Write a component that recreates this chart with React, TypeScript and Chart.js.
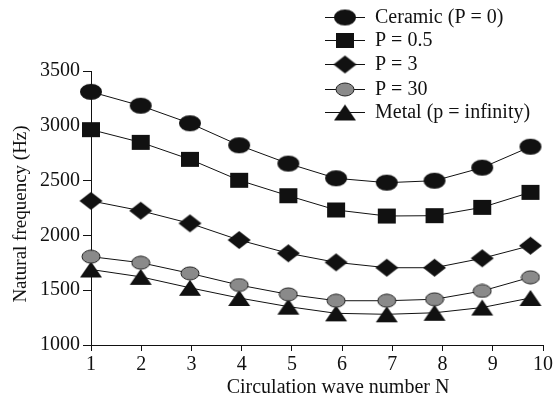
import React, { useEffect, useRef } from 'react';
import { Chart, registerables } from 'chart.js';

Chart.register(...registerables);

// ---- data ----
const waveNumbers = [1, 1.99, 2.97, 3.95, 4.93, 5.88, 6.89, 7.84, 8.79, 9.75];
const ceramic = [3310, 3183, 3023, 2822, 2655, 2521, 2481, 2499, 2618, 2809];
const p05 = [2965, 2849, 2694, 2503, 2362, 2232, 2177, 2180, 2256, 2393];
const p3 = [2315, 2225, 2110, 1958, 1837, 1754, 1705, 1705, 1791, 1906];
const p30 = [1806, 1751, 1654, 1547, 1462, 1404, 1404, 1417, 1493, 1618];
const metal = [1689, 1622, 1522, 1429, 1350, 1289, 1280, 1294, 1342, 1429];

const seriesLabels = ['Ceramic (P = 0)', 'P = 0.5', 'P = 3', 'P = 30', 'Metal (p = infinity)'];
const xAxisTitle = 'Circulation wave number N';
const yAxisTitle = 'Natural frequency (Hz)';
const yMin = 1000;
const yMax = 3500;
const yStep = 500;
const xMin = 1;
const xMax = 10;

const FONT_FAMILY = '"Liberation Serif", "Times New Roman", Times, serif';

type Kind = 'ellipse' | 'rect' | 'diamond' | 'triangle';

function makeMarker(kind: Kind, w: number, h: number, fill: string, stroke: string | null): HTMLCanvasElement {
  const c = document.createElement('canvas');
  c.width = w + 2;
  c.height = h + 2;
  const ctx = c.getContext('2d')!;
  const cx = c.width / 2;
  const cy = c.height / 2;
  ctx.beginPath();
  if (kind === 'ellipse') {
    ctx.ellipse(cx, cy, w / 2, h / 2, 0, 0, Math.PI * 2);
  } else if (kind === 'rect') {
    ctx.rect(cx - w / 2, cy - h / 2, w, h);
  } else if (kind === 'diamond') {
    ctx.moveTo(cx, cy - h / 2);
    ctx.lineTo(cx + w / 2, cy);
    ctx.lineTo(cx, cy + h / 2);
    ctx.lineTo(cx - w / 2, cy);
    ctx.closePath();
  } else {
    ctx.moveTo(cx, cy - h / 2);
    ctx.lineTo(cx + w / 2, cy + h / 2);
    ctx.lineTo(cx - w / 2, cy + h / 2);
    ctx.closePath();
  }
  ctx.fillStyle = fill;
  ctx.fill();
  if (stroke) {
    ctx.strokeStyle = stroke;
    ctx.lineWidth = 1;
    ctx.stroke();
  }
  return c;
}

export default function App() {
  const canvasRef = useRef<HTMLCanvasElement | null>(null);

  useEffect(() => {
    const canvas = canvasRef.current;
    if (!canvas) return;

    const markers = [
      makeMarker('ellipse', 22, 16, '#111', null),
      makeMarker('rect', 18, 15, '#111', null),
      makeMarker('diamond', 23, 18, '#111', null),
      makeMarker('ellipse', 18, 13, '#8a8a8a', '#222'),
      makeMarker('triangle', 22, 16, '#111', null),
    ];
    const values = [ceramic, p05, p3, p30, metal];

    const datasets = values.map((vals, i) => ({
      label: seriesLabels[i],
      data: vals.map((v, j) => ({ x: waveNumbers[j], y: v })),
      borderColor: '#111',
      borderWidth: 1,
      backgroundColor: '#111',
      pointStyle: markers[i] as any,
      pointRadius: 9,
      pointHoverRadius: 9,
      tension: 0,
      clip: false as any,
    }));

    const overlayPlugin = {
      id: 'overlay',
      afterDraw(chart: any) {
        const ctx = chart.ctx as CanvasRenderingContext2D;
        ctx.save();
        // legend
        const rows = [17, 40, 64, 89, 112];
        ctx.font = `20px ${FONT_FAMILY}`;
        ctx.fillStyle = '#111';
        ctx.textAlign = 'left';
        ctx.textBaseline = 'middle';
        rows.forEach((y, i) => {
          ctx.beginPath();
          ctx.strokeStyle = '#111';
          ctx.lineWidth = 1;
          ctx.moveTo(325, y + 0.5);
          ctx.lineTo(365, y + 0.5);
          ctx.stroke();
          const m = markers[i];
          ctx.drawImage(m, 345 - m.width / 2, y + 0.5 - m.height / 2);
          ctx.fillText(seriesLabels[i], 375, y + 1);
        });
        // axis titles
        ctx.textAlign = 'center';
        ctx.fillText(xAxisTitle, 338, 388);
        ctx.translate(21, 214);
        ctx.rotate(-Math.PI / 2);
        ctx.font = `19px ${FONT_FAMILY}`;
        ctx.fillText(yAxisTitle, 0, 0);
        ctx.restore();
      },
    };

    const tickFont = { family: FONT_FAMILY, size: 20 };

    const chart = new Chart(canvas, {
      type: 'line',
      data: { datasets: datasets as any },
      options: {
        responsive: false,
        animation: false,
        layout: { padding: { left: 0, top: 71, right: 12, bottom: 0 } },
        plugins: {
          legend: { display: false },
          tooltip: { enabled: false },
          title: { display: false },
        },
        scales: {
          x: {
            type: 'linear',
            min: xMin,
            max: xMax,
            ticks: {
              stepSize: 1,
              font: tickFont,
              color: '#111',
              padding: 2,
              callback: (v: any) => String(v),
            },
            grid: { drawOnChartArea: false, drawTicks: true, tickLength: 6, color: '#111' },
            border: { display: true, color: '#111', width: 1 },
            afterFit: (scale: any) => {
              scale.height = 55;
            },
          },
          y: {
            type: 'linear',
            min: yMin,
            max: yMax,
            ticks: {
              stepSize: yStep,
              font: tickFont,
              color: '#111',
              padding: 3,
              callback: (v: any) => String(v),
            },
            grid: { drawOnChartArea: false, drawTicks: true, tickLength: 8, color: '#111' },
            border: { display: true, color: '#111', width: 1 },
            afterFit: (scale: any) => {
              scale.width = 91;
            },
          },
        },
      },
      plugins: [overlayPlugin],
    });

    return () => {
      chart.destroy();
    };
  }, []);

  return (
    <div style={{ position: 'absolute', left: 0, top: 0, width: 555, height: 400, background: '#fff' }}>
      <canvas ref={canvasRef} width={555} height={400} style={{ display: 'block' }} />
    </div>
  );
}
